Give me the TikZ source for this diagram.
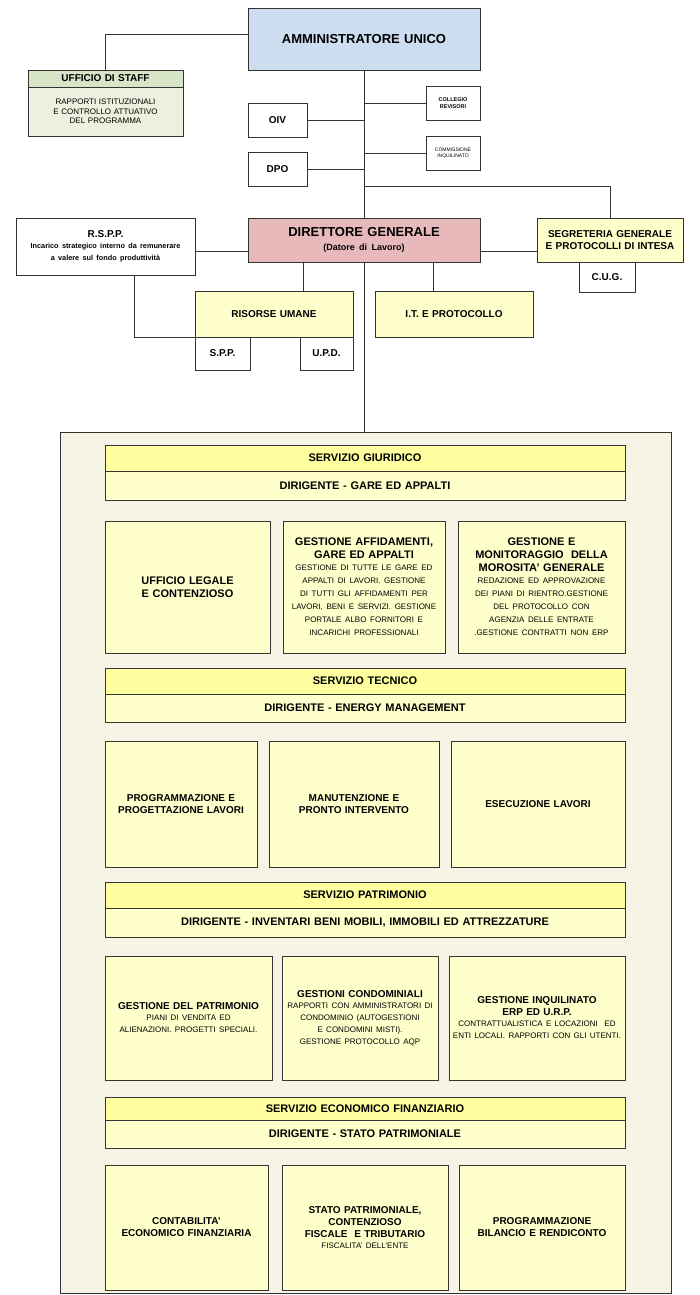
\documentclass[tikz,border=0pt]{standalone}
\usepackage{fontspec}
\setmainfont{Liberation Sans}
\definecolor{aublue}{RGB}{204,221,240}
\definecolor{dgpink}{RGB}{232,185,187}
\definecolor{staffhd}{RGB}{216,228,200}
\definecolor{staffbd}{RGB}{235,241,222}
\definecolor{boxyel}{RGB}{255,255,204}
\definecolor{hdyel}{RGB}{255,255,160}
\definecolor{panel}{RGB}{246,244,228}
\tikzset{
	box/.style={draw=black!80, line width=0.8pt, align=center, inner sep=2pt, font=\bfseries\fontsize{10}{12}\selectfont},
	small/.style={font=\fontsize{8}{9.5}\selectfont},
	link/.style={draw=black!80, line width=0.8pt}
}
% box from its corners: name, x1, y1, x2, y2, style, text
\newcommand{\bx}[7]{\node[box, #6, minimum width={(#4-#2)*1pt}, minimum height={(#5-#3)*1pt}, text width={(#4-#2-6)*1pt}] (#1) at ({(#2+#4)/2},{(#3+#5)/2}) {#7};}
\newcommand{\desc}[1]{{\mdseries\fontsize{8}{9.6}\selectfont #1}}
\begin{document}
\hyphenpenalty=10000 \exhyphenpenalty=10000
\begin{tikzpicture}[x=1pt, y=-1pt]
	\useasboundingbox (0,0) rectangle (700,1295);
	\fill[panel, draw=black!80, line width=0.8pt] (60,432) rectangle (671,1293);
	% vertice
	\bx{au}{248}{8}{480}{70}{fill=aublue, font=\bfseries\fontsize{13}{15}\selectfont}{AMMINISTRATORE UNICO}
	\bx{staffh}{28}{70}{183}{87}{fill=staffhd}{UFFICIO DI STAFF}
	\bx{staffb}{28}{87}{183}{136}{fill=staffbd, small}{RAPPORTI ISTITUZIONALI E CONTROLLO ATTUATIVO DEL PROGRAMMA}
	\bx{oiv}{248}{103}{307}{137}{fill=white}{OIV}
	\bx{dpo}{248}{152}{307}{186}{fill=white}{DPO}
	\bx{coll}{426}{86}{480}{120}{fill=white, font=\bfseries\fontsize{5.5}{7}\selectfont}{COLLEGIO REVISORI}
	\bx{comm}{426}{136}{480}{170}{fill=white, font=\fontsize{5}{6.5}\selectfont}{COMMISSIONE INQUILINATO}
	\bx{dg}{248}{218}{480}{262}{fill=dgpink, font=\bfseries\fontsize{13}{15}\selectfont}{DIRETTORE GENERALE\\[-1pt]{\fontsize{9}{11}\selectfont(Datore di Lavoro)}}
	\bx{rspp}{16}{218}{195}{275}{fill=white}{R.S.P.P.\\[-1pt]{\fontsize{7.3}{9}\selectfont Incarico strategico interno da remunerare a valere sul fondo produttività}}
	\bx{seg}{537}{218}{683}{262}{fill=boxyel}{SEGRETERIA GENERALE E PROTOCOLLI DI INTESA}
	\bx{cug}{579}{262}{635}{292}{fill=white}{C.U.G.}
	\bx{ru}{195}{291}{353}{337}{fill=boxyel}{RISORSE UMANE}
	\bx{spp}{195}{337}{250}{370}{fill=white}{S.P.P.}
	\bx{upd}{300}{337}{353}{370}{fill=white}{U.P.D.}
	\bx{it}{375}{291}{533}{337}{fill=boxyel}{I.T. E PROTOCOLLO}
	% collegamenti
	\coordinate (top) at (364,432);
	\draw[link] (au.south) -- (dg.north);
	\draw[link] (dg.south) -- (top);
	\draw[link] (au.west |- 0,34) -| (staffh.north);
	\draw[link] (coll.west) -- (364,103);
	\draw[link] (comm.west) -- (364,153);
	\draw[link] (oiv.east) -- (364,120);
	\draw[link] (dpo.east) -- (364,169);
	\draw[link] (364,186) -| (seg.north);
	\draw[link] (rspp.east |- 0,251) -- (dg.west |- 0,251);
	\draw[link] (dg.east |- 0,251) -- (seg.west |- 0,251);
	\draw[link] (134,275) |- (ru.south west);
	\draw[link] (303,262) -- (303,291);
	\draw[link] (433,262) -- (433,291);
	% servizio giuridico
	\bx{sgh}{105}{445}{625}{471}{fill=hdyel, font=\bfseries\fontsize{11}{13}\selectfont}{SERVIZIO GIURIDICO}
	\bx{sgd}{105}{471}{625}{500}{fill=boxyel, font=\bfseries\fontsize{11}{13}\selectfont}{DIRIGENTE - GARE ED APPALTI}
	\bx{sg1}{105}{521}{270}{653}{fill=boxyel, font=\bfseries\fontsize{11}{13}\selectfont}{UFFICIO LEGALE E CONTENZIOSO}
	\bx{sg2}{283}{521}{445}{653}{fill=boxyel, font=\bfseries\fontsize{11}{13}\selectfont}{GESTIONE AFFIDAMENTI, GARE ED APPALTI\\[-1pt]\desc{GESTIONE DI TUTTE LE GARE ED APPALTI DI LAVORI. GESTIONE DI TUTTI GLI AFFIDAMENTI PER LAVORI, BENI E SERVIZI. GESTIONE PORTALE ALBO FORNITORI E INCARICHI PROFESSIONALI}}
	\bx{sg3}{458}{521}{625}{653}{fill=boxyel, font=\bfseries\fontsize{11}{13}\selectfont}{GESTIONE E MONITORAGGIO\ \ DELLA MOROSITA' GENERALE\\[-1pt]\desc{REDAZIONE ED APPROVAZIONE DEI PIANI DI RIENTRO.GESTIONE DEL PROTOCOLLO CON AGENZIA DELLE ENTRATE .GESTIONE CONTRATTI NON ERP}}
	% servizio tecnico
	\bx{sth}{105}{668}{625}{694}{fill=hdyel, font=\bfseries\fontsize{11}{13}\selectfont}{SERVIZIO TECNICO}
	\bx{std}{105}{694}{625}{722}{fill=boxyel, font=\bfseries\fontsize{11}{13}\selectfont}{DIRIGENTE - ENERGY MANAGEMENT}
	\bx{st1}{105}{741}{257}{867}{fill=boxyel}{PROGRAMMAZIONE E PROGETTAZIONE LAVORI}
	\bx{st2}{269}{741}{439}{867}{fill=boxyel}{MANUTENZIONE E PRONTO INTERVENTO}
	\bx{st3}{451}{741}{625}{867}{fill=boxyel}{ESECUZIONE LAVORI}
	% servizio patrimonio
	\bx{sph}{105}{882}{625}{908}{fill=hdyel, font=\bfseries\fontsize{11}{13}\selectfont}{SERVIZIO PATRIMONIO}
	\bx{spd}{105}{908}{625}{937}{fill=boxyel, font=\bfseries\fontsize{11}{13}\selectfont}{DIRIGENTE - INVENTARI BENI MOBILI, IMMOBILI ED ATTREZZATURE}
	\bx{sp1}{105}{956}{272}{1080}{fill=boxyel}{GESTIONE DEL PATRIMONIO\\[-1pt]\desc{PIANI DI VENDITA ED ALIENAZIONI. PROGETTI SPECIALI.}}
	\bx{sp2}{282}{956}{438}{1080}{fill=boxyel}{GESTIONI CONDOMINIALI\\[-1pt]\desc{RAPPORTI CON AMMINISTRATORI DI CONDOMINIO (AUTOGESTIONI E CONDOMINI MISTI). GESTIONE PROTOCOLLO AQP}\\[14pt]}
	\bx{sp3}{449}{956}{625}{1080}{fill=boxyel}{GESTIONE INQUILINATO ERP ED U.R.P.\\[-1pt]\desc{CONTRATTUALISTICA E LOCAZIONI\ \ ED ENTI LOCALI. RAPPORTI CON GLI UTENTI.}\\[14pt]}
	% servizio economico finanziario
	\bx{seh}{105}{1097}{625}{1120}{fill=hdyel, font=\bfseries\fontsize{11}{13}\selectfont}{SERVIZIO ECONOMICO FINANZIARIO}
	\bx{sed}{105}{1120}{625}{1148}{fill=boxyel, font=\bfseries\fontsize{11}{13}\selectfont}{DIRIGENTE - STATO PATRIMONIALE}
	\bx{se1}{105}{1165}{268}{1290}{fill=boxyel}{CONTABILITA' ECONOMICO FINANZIARIA}
	\bx{se2}{282}{1165}{448}{1290}{fill=boxyel}{STATO PATRIMONIALE, CONTENZIOSO FISCALE\ \ E TRIBUTARIO\\[-1pt]\desc{FISCALITA' DELL'ENTE}}
	\bx{se3}{459}{1165}{625}{1290}{fill=boxyel}{PROGRAMMAZIONE BILANCIO E RENDICONTO}
\end{tikzpicture}
\end{document}
